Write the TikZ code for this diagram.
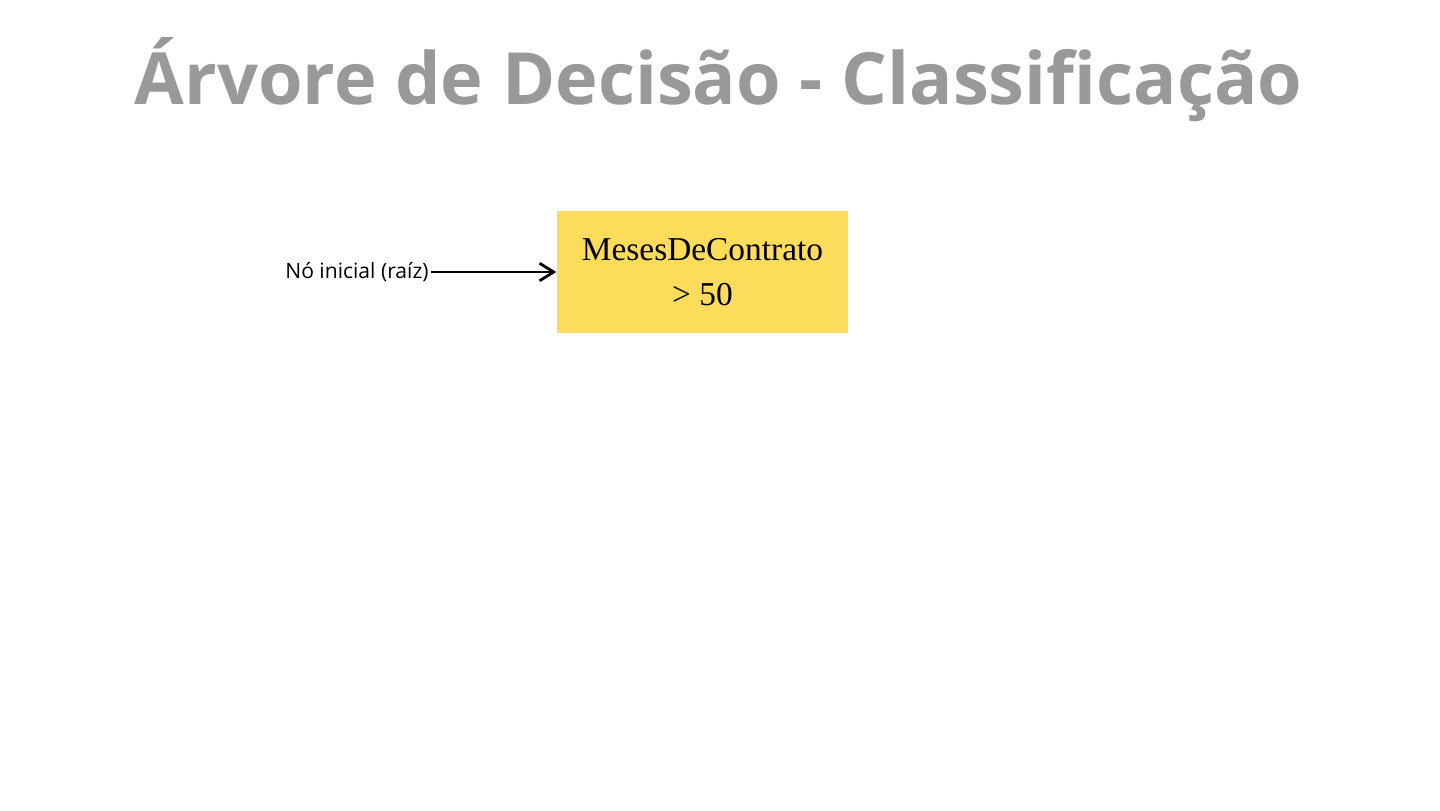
\documentclass[tikz,border=0pt]{standalone}
\usepackage{fontspec}
\setmainfont{Liberation Serif}
\newfontfamily\titlefont{Open Sans}
\usepackage{tikz}
\usetikzlibrary{positioning}
\usetikzlibrary{arrows.meta}
\definecolor{noamarelo}{HTML}{FDDC5C}

\begin{document}
\begin{tikzpicture}[>={Straight Barb[length=4pt,width=5pt]}]
\useasboundingbox (0,0) rectangle (14.4,-8.1);

    \path
    (7.185,-0.80) node[text=black!40,font=\titlefont\bfseries\fontsize{20.5}{24}\selectfont] (titulo) {Árvore de Decisão - Classificação}
    (7.025,-2.72) node[fill=noamarelo,minimum width=2.91cm,minimum height=1.22cm,align=center,font=\fontsize{9.5}{12.8}\selectfont] (raiz) {MesesDeContrato\\ > 50}
    (3.57,-2.72) node[font=\titlefont\fontsize{6}{7}\selectfont,inner sep=0.5pt] (rotulo) {Nó inicial (raíz)};

\draw[->,thick] (rotulo)--(raiz);

\end{tikzpicture}
\end{document}
